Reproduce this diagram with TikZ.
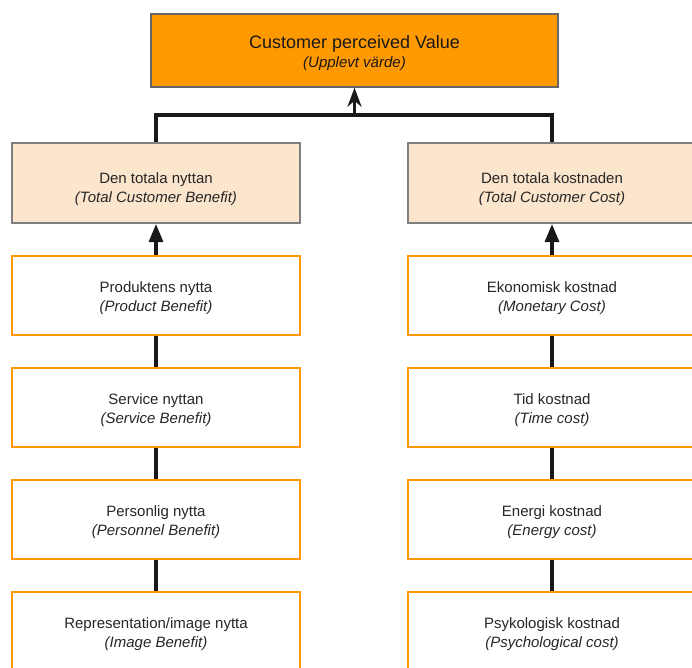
\documentclass[tikz,border=0pt]{standalone}
\usepackage{fontspec}
\setmainfont{Liberation Sans}
\usepackage{tikz}
\usetikzlibrary{arrows.meta}
\definecolor{valueorange}{HTML}{FF9900}
\definecolor{totalfill}{HTML}{FCE5CD}
\definecolor{boxtext}{HTML}{262626}
\newcommand{\pushdown}[1]{\rule{0pt}{#1}}
\tikzset{my arrow/.style={
  black!90,
  line width=3.1pt,
  -{Triangle[length=18pt,width=14pt]}
  }
}
\tikzset{top arrow/.style={
  black!90,
  line width=3.1pt,
  -{Stealth[length=19pt,width=14pt,inset=6pt]}
  }
}
\tikzset{my line/.style={
  black!90,
  line width=3.1pt
  }
}

\begin{document}
\begin{tikzpicture}[x=1pt,y=-1pt]
    \useasboundingbox (0,0) rectangle (692,667);
    \clip (0,0) rectangle (692,667);

    \node[draw=black!60,fill=valueorange,line width=1.5pt,minimum height=73pt,minimum width=407pt,align=center,text=black!90,font=\fontsize{18}{20}\selectfont](V) at (354.5,50.5)
        {\pushdown{19pt}Customer perceived Value\\[-1pt]{\fontsize{15}{18}\selectfont\itshape(Upplevt v\"arde)}};

    \node[draw=black!50,fill=totalfill,line width=2pt,minimum height=80pt,minimum width=288pt,align=center,text=boxtext,font=\fontsize{15}{19}\selectfont](LT) at (156,183)
        {\pushdown{23pt}Den totala nyttan\\{\itshape(Total Customer Benefit)}};
    \node[draw=black!50,fill=totalfill,line width=2pt,minimum height=80pt,minimum width=288pt,align=center,text=boxtext,font=\fontsize{15}{19}\selectfont](RT) at (552,183)
        {\pushdown{23pt}Den totala kostnaden\\{\itshape(Total Customer Cost)}};

    \foreach \t/\e [count=\n] in {Produktens nytta/Product Benefit,Service nyttan/Service Benefit,Personlig nytta/Personnel Benefit,{Representation/image nytta}/Image Benefit}
        \node[draw=valueorange,line width=2.8pt,minimum height=79pt,minimum width=288pt,align=center,text=boxtext,font=\fontsize{15}{19}\selectfont](L\n) at (156,183.5+\n*112) {\pushdown{17pt}\t\\{\itshape(\e)}};

    \foreach \t/\e [count=\n] in {Ekonomisk kostnad/Monetary Cost,Tid kostnad/Time cost,Energi kostnad/Energy cost,Psykologisk kostnad/Psychological cost}
        \node[draw=valueorange,line width=2.8pt,minimum height=79pt,minimum width=288pt,align=center,text=boxtext,font=\fontsize{15}{19}\selectfont](R\n) at (552,183.5+\n*112) {\pushdown{17pt}\t\\{\itshape(\e)}};

    \coordinate (J) at (354.5,115);
    \draw[my line] (LT.north) |- (J) -| (RT.north);
    \draw[top arrow] (J) to (V.south);

    \draw[my arrow] (L1) to (LT);
    \draw[my arrow] (R1) to (RT);
    \foreach \a/\b in {1/2,2/3,3/4} {
        \draw[my line] (L\a) to (L\b);
        \draw[my line] (R\a) to (R\b);
    }
\end{tikzpicture}
\end{document}
